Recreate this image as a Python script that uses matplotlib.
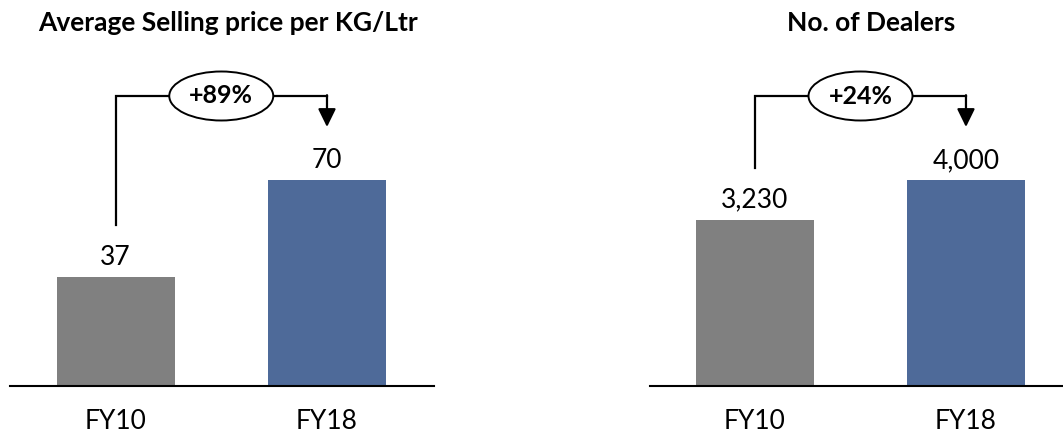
import matplotlib.pyplot as plt
from matplotlib.patches import Ellipse

# ---------- Données ----------
years = ["FY10", "FY18"]
price_values = [37, 70]
dealer_values = [3230, 4000]
price_labels = ["37", "70"]
dealer_labels = ["3,230", "4,000"]
price_growth = "+89%"
dealer_growth = "+24%"
titles = ["Average Selling price per KG/Ltr", "No. of Dealers"]

GREY = "#808080"
BLUE = "#4E6A99"
FONT = "Lato"

W, H, DPI = 1063, 435, 100
fig = plt.figure(figsize=(W / DPI, H / DPI), dpi=DPI)
plt.rcParams["font.family"] = [FONT, "DejaVu Sans"]


def panel(left_px, right_px, xlim, values, labels, growth, title, title_x):
    # axes: du haut de la figure jusqu'à la ligne de base (y=387 px)
    base_px = 387
    ax = fig.add_axes([left_px / W, (H - base_px) / H,
                       (right_px - left_px) / W, base_px / H])
    top = max(values) * base_px / 206
    ax.set_ylim(0, top)
    ax.set_xlim(*xlim)
    px = top / base_px  # unités de données par pixel
    xpx = (xlim[1] - xlim[0]) / (right_px - left_px)

    x = [0, 1]
    ax.bar(x, values, width=0.558, color=[GREY, BLUE], zorder=2)

    for xi, v, lab in zip(x, values, labels):
        ax.text(xi, v + 8 * px, lab, ha="center", va="bottom", fontsize=19)

    # crochet de variation
    level = top - 97 * px
    start = values[0] + 52 * px
    tip = values[1] + 53 * px
    ax.plot([0, 0, 1], [start, level, level], color="black", lw=1.6,
            solid_joinstyle="miter", zorder=3)
    ax.annotate("", xy=(1, tip), xytext=(1, level + 0.8 * px),
                arrowprops=dict(arrowstyle="-|>,head_length=0.55,head_width=0.27",
                                mutation_scale=20, color="black", lw=1.6,
                                shrinkA=0, shrinkB=0), zorder=3)
    ell = Ellipse((0.5, level), width=104 * xpx, height=49 * px,
                  facecolor="white", edgecolor="black", lw=1.4, zorder=4)
    ax.add_patch(ell)
    ax.text(0.5, level + 1 * px, growth, ha="center", va="center", fontsize=18,
            fontweight="bold", zorder=5)

    for s in ["top", "left", "right"]:
        ax.spines[s].set_visible(False)
    ax.spines["bottom"].set_linewidth(1.5)
    ax.spines["bottom"].set_zorder(3)
    ax.set_yticks([])
    ax.set_xticks(x)
    ax.set_xticklabels(years, fontsize=19)
    ax.tick_params(axis="x", length=0, pad=16)
    ax.patch.set_alpha(0)

    fig.text(title_x / W, 1 - 23 / H, title, ha="center", va="center",
             fontsize=19, fontweight="bold")
    return ax


panel(10, 434, (-0.499, 1.506), price_values, price_labels, price_growth,
      titles[0], 228)
panel(650, 1063, (-0.498, 1.46), dealer_values, dealer_labels, dealer_growth,
      titles[1], 871)

fig.savefig("out.png", dpi=DPI)
